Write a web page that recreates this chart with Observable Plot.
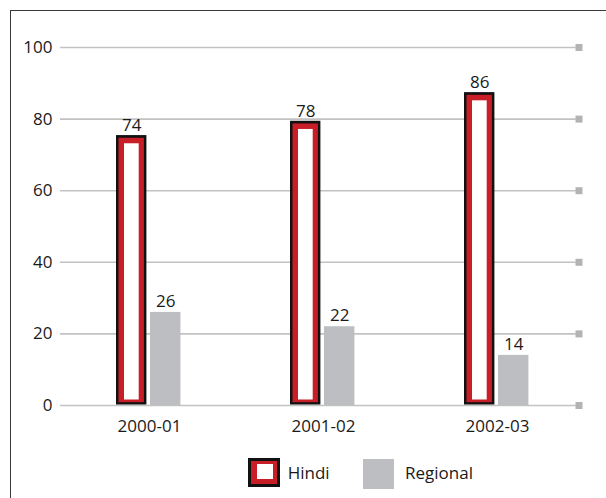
<!DOCTYPE html>
<html><head><meta charset="utf-8">
<script src="https://cdn.jsdelivr.net/npm/d3@7"></script>
<script src="https://cdn.jsdelivr.net/npm/@observablehq/plot@0.6"></script>
<style>
body{margin:0;background:#fff;font-family:"Open Sans",sans-serif;}
#wrap{position:relative;width:606px;height:498px;overflow:hidden;}
#frame{position:absolute;left:10px;top:10px;width:700px;height:600px;border-left:1.5px solid #3a3a3a;border-top:1.5px solid #3a3a3a;}
#chart{position:absolute;left:0;top:0;}
.sw{position:absolute;}
.lt{position:absolute;font-size:17px;line-height:17px;color:#1a1a1a;white-space:nowrap;}
</style></head>
<body><div id="wrap"><div id="frame"></div><div id="chart"></div><div id="legend"></div></div>
<script>
const years = ["2000-01", "2001-02", "2002-03"];
const hindi = [74, 78, 86];
const regional = [26, 22, 14];
const yTicks = [0, 20, 40, 60, 80, 100];
const seriesNames = ["Hindi", "Regional"];

const hindiRows = years.map((year, i) => ({year, value: hindi[i]}));
const regionalRows = years.map((year, i) => ({year, value: regional[i]}));

const RED = "#c81e28", BLACK = "#111", GRAY = "#bdbec1", TXT = "#1a1a1a";

const plot = Plot.plot({
  width: 606, height: 445,
  marginLeft: 61, marginRight: 21.2, marginTop: 47, marginBottom: 40,
  x: {domain: years, padding: 0, label: null},
  y: {domain: [0, 100], label: null},
  style: {fontFamily: "Open Sans", fontSize: "17px", color: TXT, background: "transparent"},
  marks: [
    Plot.ruleY(yTicks, {stroke: "#c2c2c2", strokeWidth: 1.6, insetLeft: -1, insetRight: 9}),
    Plot.dot(yTicks, {y: d => d, frameAnchor: "right", dx: -6.3, symbol: "square", r: 3.95, fill: "#b3b3b3"}),
    Plot.barY(hindiRows, {x: "year", y: "value", fill: BLACK, insetLeft: 54, insetRight: 89.6, insetTop: -5, insetBottom: 0.5}),
    Plot.barY(hindiRows, {x: "year", y: "value", fill: RED, insetLeft: 56.5, insetRight: 92.1, insetTop: -2.3, insetBottom: 2.8}),
    Plot.barY(hindiRows, {x: "year", y: "value", fill: "#fff", insetLeft: 62, insetRight: 97.3, insetTop: 3.2, insetBottom: 5.5}),
    Plot.barY(regionalRows, {x: "year", y: "value", fill: GRAY, insetLeft: 88, insetRight: 55.6}),
    Plot.text(hindiRows, {x: "year", y: "value", text: d => String(d.value), dx: -17.8, dy: -9.5, lineAnchor: "bottom", fontSize: 17, fill: TXT}),
    Plot.text(regionalRows, {x: "year", y: "value", text: d => String(d.value), dx: 16.2, dy: -5.5, lineAnchor: "bottom", fontSize: 17, fill: TXT}),
    Plot.axisX({tickSize: 0, tickPadding: 14, fontSize: 17, label: null}),
    Plot.axisY({ticks: yTicks, tickSize: 0, tickPadding: 9, fontSize: 17, label: null})
  ]
});
document.getElementById("chart").appendChild(plot);

// legend
const lg = document.getElementById("legend");
function box(l, t, w, h, c) {
  const d = document.createElement("div");
  d.className = "sw";
  Object.assign(d.style, {left: l + "px", top: t + "px", width: w + "px", height: h + "px", background: c});
  lg.appendChild(d);
}
function label(l, baseline, s) {
  const d = document.createElement("div");
  d.className = "lt";
  d.textContent = s;
  Object.assign(d.style, {left: l + "px", top: (baseline - 15) + "px"});
  lg.appendChild(d);
}
box(248.3, 458.3, 31.7, 28.4, BLACK);
box(251, 461, 26.3, 23, RED);
box(257.3, 464, 15.4, 15.3, "#fff");
label(287.7, 479, seriesNames[0]);
box(363, 459, 31, 30, GRAY);
label(405, 479, seriesNames[1]);
</script>
</body></html>
